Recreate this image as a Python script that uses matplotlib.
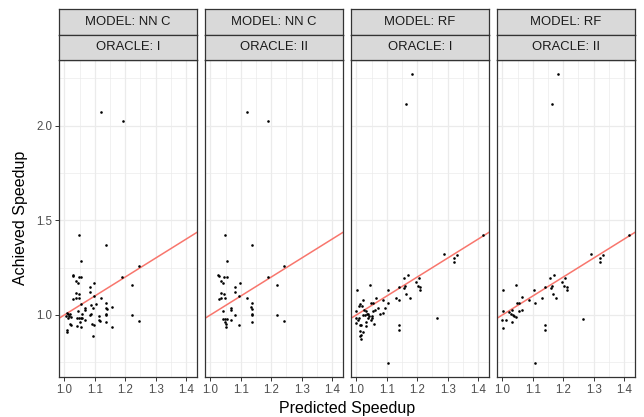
import numpy as np
import matplotlib
matplotlib.use("Agg")
import matplotlib.pyplot as plt
from matplotlib.ticker import MultipleLocator

plt.rcParams['font.family'] = ['Liberation Sans', 'DejaVu Sans']

# facet labels
models = ["NN C", "NN C", "RF", "RF"]
oracles = ["I", "II", "I", "II"]

# NN C / oracle I
x1 = [1.120, 1.191, 1.049, 1.137, 1.054, 1.028, 1.029, 1.048, 1.056, 1.037, 1.043, 1.097,
      1.083, 1.083, 1.190, 1.244, 1.221, 1.037, 1.047, 1.029, 1.038, 1.049, 1.096, 1.121,
      1.056, 1.103, 1.137, 1.086, 1.094, 1.069, 1.069, 1.044, 1.136, 1.139, 1.156,
      1.009, 1.013, 1.006, 1.016, 1.019, 1.011, 1.020, 1.058, 1.086, 1.085, 1.136, 1.136,
      1.041, 1.048, 1.053, 1.058, 1.069, 1.113, 1.113, 1.116, 1.221, 1.244, 1.138,
      1.017, 1.020, 1.041, 1.053, 1.051, 1.092, 1.098, 1.156, 1.008, 1.008, 1.093]
y1 = [2.069, 2.025, 1.421, 1.369, 1.284, 1.212, 1.207, 1.200, 1.200, 1.180, 1.168, 1.169,
      1.145, 1.122, 1.198, 1.257, 1.160, 1.116, 1.108, 1.085, 1.090, 1.090, 1.102, 1.090,
      1.060, 1.060, 1.065, 1.053, 1.039, 1.037, 1.026, 1.023, 1.039, 1.030, 1.040,
      1.012, 1.004, 0.995, 0.995, 1.005, 0.986, 0.990, 1.007, 1.004, 1.000, 1.007, 0.998,
      0.983, 0.981, 0.983, 0.981, 0.974, 0.995, 0.972, 0.968, 1.002, 0.968, 0.963,
      0.954, 0.949, 0.942, 0.937, 0.960, 0.954, 0.947, 0.935, 0.920, 0.907, 0.889]

# NN C / oracle II
x2 = [1.119, 1.189, 1.047, 1.136, 1.054, 1.026, 1.027, 1.044, 1.053, 1.034, 1.042, 1.096,
      1.081, 1.081, 1.188, 1.243, 1.219, 1.034, 1.046, 1.027, 1.036, 1.048, 1.094, 1.120,
      1.136, 1.066, 1.066, 1.042, 1.133, 1.136, 1.081, 1.136, 1.136, 1.219,
      1.042, 1.048, 1.054, 1.067, 1.136, 1.243, 1.048, 1.050, 1.050, 1.094]
y2 = [2.069, 2.025, 1.421, 1.369, 1.284, 1.212, 1.207, 1.200, 1.200, 1.180, 1.168, 1.169,
      1.145, 1.122, 1.198, 1.257, 1.160, 1.116, 1.108, 1.085, 1.090, 1.090, 1.102, 1.090,
      1.065, 1.037, 1.026, 1.023, 1.040, 1.030, 1.000, 1.007, 0.998, 1.000,
      0.977, 0.980, 0.980, 0.974, 0.963, 0.968, 0.961, 0.951, 0.937, 0.947]

# RF / oracle I
x3 = [1.182, 1.162, 1.417, 1.289, 1.331, 1.320, 1.320, 1.168, 1.156, 1.206, 1.196, 1.043,
      1.140, 1.158, 1.161, 1.201, 1.210, 1.210, 1.002, 1.103, 1.163, 1.176, 1.129, 1.141,
      1.064, 1.087, 1.023, 1.011, 1.017, 1.007, 1.047, 1.053, 1.104, 1.072, 1.062, 1.094,
      1.024, 1.031, 1.000, 1.033, 1.022, 1.028, 1.038, 1.041, 1.053, 1.052, 1.078, 1.087,
      0.997, 1.008, 1.006, 1.000, 1.011, 1.016, 1.030, 1.031, 1.038, 1.051, 1.047, 1.059,
      1.264, 1.140, 1.141, 1.010, 1.021, 1.016, 1.010, 1.016, 1.104]
y3 = [2.272, 2.113, 1.423, 1.323, 1.317, 1.300, 1.281, 1.213, 1.194, 1.196, 1.176, 1.160,
      1.145, 1.141, 1.150, 1.152, 1.146, 1.134, 1.131, 1.131, 1.108, 1.090, 1.088, 1.076,
      1.090, 1.079, 1.081, 1.058, 1.048, 1.046, 1.063, 1.063, 1.065, 1.039, 1.028, 1.035,
      1.025, 1.019, 1.018, 1.007, 1.002, 0.998, 1.004, 0.995, 1.018, 0.995, 1.007, 1.009,
      0.986, 0.984, 0.975, 0.958, 0.945, 0.949, 0.963, 0.942, 0.982, 0.982, 0.972, 0.951,
      0.982, 0.944, 0.920, 0.915, 0.908, 0.896, 0.890, 0.875, 0.746]

# RF / oracle II
x4 = [1.182, 1.164, 1.417, 1.290, 1.331, 1.320, 1.320, 1.168, 1.156, 1.207, 1.197, 1.044,
      1.141, 1.159, 1.164, 1.201, 1.211, 1.211, 1.003, 1.104, 1.165, 1.176, 1.130,
      1.065, 1.087, 1.106, 1.049, 1.054, 1.063, 1.054, 1.022, 1.031, 1.002,
      1.028, 1.033, 1.039, 1.043, 1.000, 1.012, 1.031, 1.002, 1.265, 1.141, 1.141, 1.106]
y4 = [2.272, 2.113, 1.423, 1.323, 1.317, 1.300, 1.281, 1.213, 1.194, 1.196, 1.176, 1.160,
      1.145, 1.141, 1.152, 1.152, 1.146, 1.134, 1.129, 1.131, 1.109, 1.090, 1.088,
      1.092, 1.081, 1.065, 1.063, 1.065, 1.028, 1.018, 1.016, 1.025, 1.018,
      1.004, 0.998, 0.993, 0.991, 0.972, 0.975, 0.965, 0.931, 0.980, 0.944, 0.921, 0.746]

xs = [x1, x2, x3, x4]
ys = [y1, y2, y3, y4]

W, H = 644, 417
fig = plt.figure(figsize=(W / 100, H / 100), dpi=100)

lefts = [59, 205, 351, 497]
pw = 138
p_top, p_bot = 60, 377
strip_h = 25.5
dark = "#333333"

for i in range(4):
    ax = fig.add_axes([lefts[i] / W, (H - p_bot) / H, pw / W, (p_bot - p_top) / H])
    ax.set_xlim(0.982, 1.436)
    ax.set_ylim(0.672, 2.346)
    ax.xaxis.set_major_locator(MultipleLocator(0.1))
    ax.xaxis.set_minor_locator(MultipleLocator(0.05))
    ax.yaxis.set_major_locator(MultipleLocator(0.5))
    ax.yaxis.set_minor_locator(MultipleLocator(0.25))
    ax.grid(which="major", color="#EBEBEB", lw=0.9)
    ax.grid(which="minor", color="#EBEBEB", lw=0.5)
    ax.set_axisbelow(True)
    ax.tick_params(which="minor", length=0)
    ax.tick_params(which="major", length=3, width=0.7, color=dark, labelsize=8.3,
                   labelcolor="#4D4D4D", pad=2)
    ax.set_xticks([1.0, 1.1, 1.2, 1.3, 1.4], ["1.0", "1.1", "1.2", "1.3", "1.4"])
    if i > 0:
        ax.tick_params(axis="y", left=False, labelleft=False)
    for s in ax.spines.values():
        s.set_color(dark)
        s.set_linewidth(0.9)

    lx = np.array([0.9, 1.5])
    ax.plot(lx, lx, color="#F8766D", lw=1.1, zorder=2)
    ax.scatter(xs[i], ys[i], s=3.5, color="black", linewidths=0, zorder=3)

    labels = ["MODEL: " + models[i], "ORACLE: " + oracles[i]]
    for k in range(2):
        top = p_top - (2 - k) * strip_h
        sa = fig.add_axes([lefts[i] / W, (H - top - strip_h) / H, pw / W, strip_h / H])
        sa.set_facecolor("#D9D9D9")
        sa.set_xticks([])
        sa.set_yticks([])
        for s in sa.spines.values():
            s.set_color(dark)
            s.set_linewidth(0.9)
        sa.text(0.5, 0.5, labels[k], ha="center", va="center", fontsize=9.4,
                color="#1A1A1A", transform=sa.transAxes)

fig.text((lefts[0] + lefts[3] + pw) / 2 / W, 1 - 408 / H, "Predicted Speedup",
         ha="center", va="center", fontsize=11.5)
fig.text(21 / W, 1 - 218 / H, "Achieved Speedup", rotation=90,
         ha="center", va="center", fontsize=11.5)

fig.savefig("out.png", dpi=100)
